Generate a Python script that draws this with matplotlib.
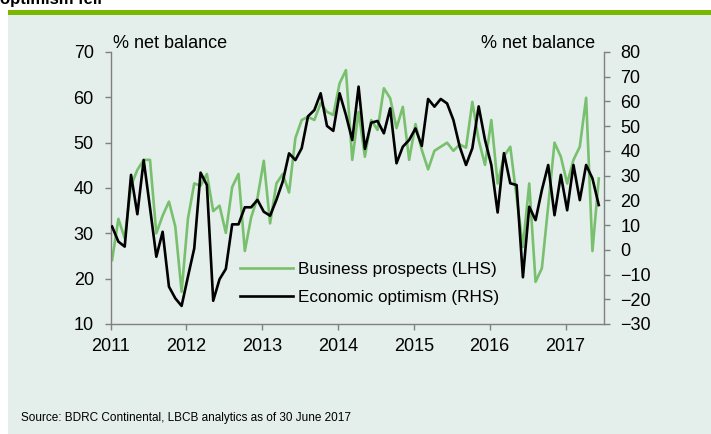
import matplotlib
matplotlib.use("Agg")
import matplotlib.pyplot as plt
from matplotlib.patches import Rectangle
import numpy as np

plt.rcParams['font.family'] = ['Liberation Sans', 'DejaVu Sans']

# monthly readings, Jan 2011 .. Jun 2017
business_prospects = [
    24.1, 33.2, 28.9, 40.5, 44.0, 46.2, 46.2, 30.0, 33.9, 37.0, 31.5, 17.1,
    33.2, 41.0, 40.5, 43.1, 34.9, 36.1, 30.1, 40.2, 43.1, 26.1, 33.5, 37.8,
    46.0, 32.2, 41.0, 43.1, 39.0, 51.0, 55.0, 55.7, 55.0, 58.7, 56.8, 56.1,
    63.1, 66.0, 46.2, 56.8, 46.9, 55.0, 52.8, 62.0, 59.8, 53.2, 57.9, 46.2,
    54.1, 48.4, 44.1, 48.2, 49.1, 50.0, 48.2, 49.6, 48.9, 59.0, 50.6, 45.1,
    55.0, 41.0, 47.0, 49.1, 38.0, 27.0, 41.0, 19.3, 22.3, 36.0, 50.0, 46.9,
    41.0, 46.2, 49.1, 59.9, 26.1, 42.1,
]
economic_optimism = [
    9.4, 3.3, 1.3, 30.3, 14.4, 36.3, 17.0, -2.8, 7.3, -14.9, -19.6, -22.7,
    -10.9, 0.6, 31.2, 26.2, -20.6, -11.9, -7.7, 10.3, 10.3, 17.2, 17.2, 20.2,
    15.4, 13.8, 20.2, 27.6, 39.0, 36.3, 41.1, 54.0, 56.5, 63.3, 50.1, 48.1,
    63.3, 54.5, 44.4, 66.0, 40.8, 51.4, 52.1, 47.1, 57.2, 35.0, 41.7, 44.4,
    49.1, 42.0, 61.0, 57.9, 61.0, 59.2, 52.5, 41.7, 34.3, 41.1, 58.0, 44.5,
    34.3, 15.1, 39.1, 26.9, 26.2, -11.1, 17.4, 12.0, 24.2, 34.3, 14.0, 30.3,
    16.0, 34.3, 20.1, 34.3, 28.9, 18.1,
]
year_ticks = [2011, 2012, 2013, 2014, 2015, 2016, 2017]
left_ticks = [10, 20, 30, 40, 50, 60, 70]
right_ticks = [-30, -20, -10, 0, 10, 20, 30, 40, 50, 60, 70, 80]

months = 2011 + (np.arange(len(business_prospects)) + 0.25) / 12

W, H = 711, 434
bg = '#e4eeea'
green = '#78c06e'
spine_col = '#808080'

fig = plt.figure(figsize=(W / 100, H / 100), dpi=100)
fig.patch.set_facecolor('white')
fig.add_artist(Rectangle((8 / W, 0), 1, (H - 15) / H, transform=fig.transFigure,
                         facecolor=bg, edgecolor='none', zorder=0))
fig.add_artist(Rectangle((8 / W, (H - 15) / H), 1, 5 / H, transform=fig.transFigure,
                         facecolor='#7ab800', edgecolor='none', zorder=0))
# title sits mostly above the crop, as in the source
fig.text(0 / W, (H - 4) / H, 'optimism fell', fontsize=12, fontweight='bold',
         va='baseline', ha='left')

ax = fig.add_axes([110.5 / W, (H - 324) / H, (603.5 - 110.5) / W, 272 / H])
ax.set_facecolor('none')
ax2 = ax.twinx()

l1, = ax.plot(months, business_prospects, color=green, lw=1.9,
              label='Business prospects (LHS)')
l2, = ax2.plot(months, economic_optimism, color='black', lw=1.9,
               label='Economic optimism (RHS)')

ax.set_xlim(2011, 2017.5)
ax.set_ylim(10, 70)
ax2.set_ylim(-30, 80)
ax.set_xticks(year_ticks)
ax.set_xticklabels([str(y) for y in year_ticks])
ax.set_yticks(left_ticks)
ax2.set_yticks(right_ticks)

for s in ['top', 'right']:
    ax.spines[s].set_visible(False)
for s in ['top', 'left', 'bottom']:
    ax2.spines[s].set_visible(False)
for sp in [ax.spines['left'], ax.spines['bottom'], ax2.spines['right']]:
    sp.set_color(spine_col)
    sp.set_linewidth(1.0)

ax.tick_params(axis='both', direction='out', length=4, width=1.0, color=spine_col,
               labelsize=13, pad=8)
ax2.tick_params(axis='y', direction='out', length=4, width=1.0, color=spine_col,
                labelsize=13, pad=8)
ax.tick_params(axis='x', pad=6)

fig.text(113 / W, (H - 44) / H, '% net balance', fontsize=13, va='center', ha='left')
fig.text(595 / W, (H - 44) / H, '% net balance', fontsize=13, va='center', ha='right')

fig.legend(handles=[l1, l2], loc='center left',
           bbox_to_anchor=(240 / W, (H - 283.3) / H), frameon=False, fontsize=12.3,
           handlelength=3.1, handletextpad=0.3, labelspacing=0.76, borderpad=0,
           borderaxespad=0)

fig.text(21 / W, (H - 418) / H, 'Source: BDRC Continental, LBCB analytics as of 30 June 2017',
         fontsize=8.5, va='center', ha='left')

fig.savefig('out.png', dpi=100, facecolor=fig.get_facecolor())
